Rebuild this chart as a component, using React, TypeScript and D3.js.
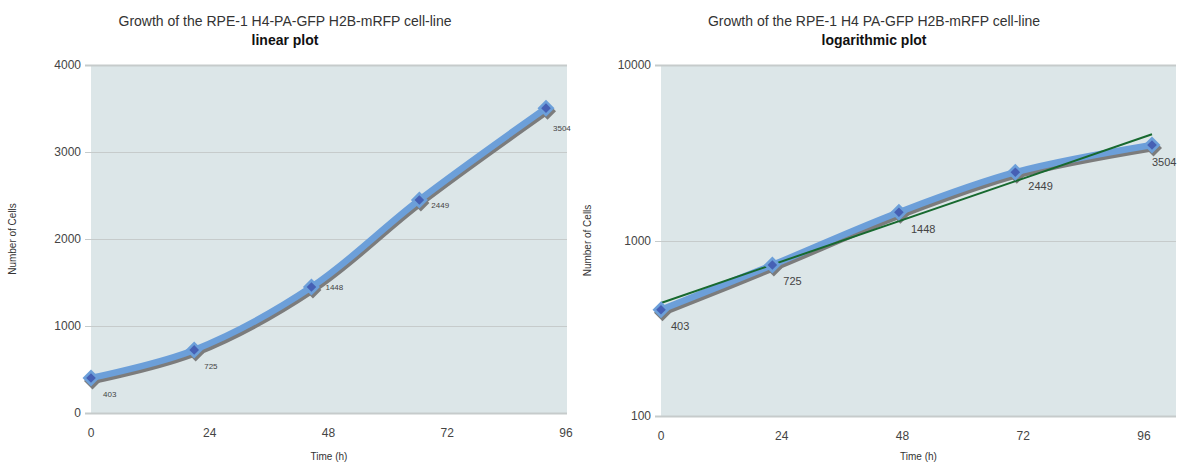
import React from 'react';
import * as d3 from 'd3';

// ---- data ----
const timesH = [0, 22, 47, 70, 97];
const cellCounts = [403, 725, 1448, 2449, 3504];
const xTickValues = [0, 24, 48, 72, 96];
const linearYTicks = [0, 1000, 2000, 3000, 4000];
const logYTicks = [100, 1000, 10000];
const titleLinear = 'Growth of the RPE-1 H4-PA-GFP H2B-mRFP cell-line';
const titleLog = 'Growth of the RPE-1 H4 PA-GFP H2B-mRFP cell-line';
const subtitleLinear = 'linear plot';
const subtitleLog = 'logarithmic plot';
const yAxisTitle = 'Number of Cells';
const xAxisTitle = 'Time (h)';

// ---- styling ----
const FONT = '"Liberation Sans", Arial, sans-serif';
const BG = '#dce6e8';
const GRID = '#c6cbcb';
const BLUE = '#6c9fd9';
const DARK_BLUE = '#4660b4';
const SHADOW = '#7c7c7c';
const GREEN = '#17692f';
const TEXT = '#333';

type Pt = { t: number; v: number };
const points: Pt[] = timesH.map((t, i) => ({ t, v: cellCounts[i] }));

// exponential trend (least squares on ln)
const lnv = cellCounts.map((v) => Math.log(v));
const mt = d3.mean(timesH) as number;
const ml = d3.mean(lnv) as number;
const bSlope =
  d3.sum(timesH.map((t, i) => (t - mt) * (lnv[i] - ml))) /
  d3.sum(timesH.map((t) => (t - mt) * (t - mt)));
const aInt = ml - bSlope * mt;
const trend: Pt[] = [timesH[0], timesH[timesH.length - 1]].map((t) => ({
  t,
  v: Math.exp(aInt + bSlope * t),
}));

const diamond = (r: number) => `M0,${-r}L${r},0L0,${r}L${-r},0Z`;

interface PanelProps {
  log: boolean;
  title: string;
  subtitle: string;
  plotX0: number;
  plotX1: number;
  plotY0: number;
  plotY1: number;
  dataX1: number;
  tickX1: number;
  titleCx: number;
  yTitleX: number;
  labelSize: number;
  labelOffsets: [number, number][];
}

function Panel(p: PanelProps) {
  const x = d3.scaleLinear().domain([0, timesH[timesH.length - 1]]).range([p.plotX0, p.dataX1]);
  const xTick = d3.scaleLinear().domain([0, 96]).range([p.plotX0, p.tickX1]);
  const y = p.log
    ? d3.scaleLog().domain([100, 10000]).range([p.plotY1, p.plotY0])
    : d3.scaleLinear().domain([0, 4000]).range([p.plotY1, p.plotY0]);
  const yTicks = p.log ? logYTicks : linearYTicks;
  const line = d3
    .line<Pt>()
    .x((d) => x(d.t))
    .y((d) => y(d.v))
    .curve(d3.curveCatmullRom.alpha(0.5));
  const straight = d3
    .line<Pt>()
    .x((d) => x(d.t))
    .y((d) => y(d.v));
  const path = line(points) || '';
  return (
    <g>
      <text x={p.titleCx} y={26} textAnchor="middle" fontSize={14} fill={TEXT} fontFamily={FONT}>
        {p.title}
      </text>
      <text x={p.titleCx} y={45} textAnchor="middle" fontSize={14} fontWeight="bold" fill="#111" fontFamily={FONT}>
        {p.subtitle}
      </text>
      <rect x={p.plotX0} y={p.plotY0} width={p.plotX1 - p.plotX0} height={p.plotY1 - p.plotY0} fill={BG} />
      {yTicks.map((t) => (
        <g key={t}>
          <line
            x1={p.plotX0 - 6}
            x2={p.plotX1}
            y1={Math.round(y(t)) + 0.5}
            y2={Math.round(y(t)) + 0.5}
            stroke={GRID}
            strokeWidth={t === yTicks[0] || t === yTicks[yTicks.length - 1] ? 2 : 1}
          />
          <text x={p.plotX0 - 10} y={y(t) + 4} textAnchor="end" fontSize={12} fill="#444" fontFamily={FONT}>
            {t}
          </text>
        </g>
      ))}
      {xTickValues.map((t) => (
        <text key={t} x={xTick(t)} y={p.plotY1 + 24} textAnchor="middle" fontSize={12} fill="#444" fontFamily={FONT}>
          {t}
        </text>
      ))}
      <text
        x={(p.plotX0 + p.plotX1) / 2}
        y={460}
        textAnchor="middle"
        fontSize={10}
        fill={TEXT}
        fontFamily={FONT}
      >
        {xAxisTitle}
      </text>
      <text
        transform={`translate(${p.yTitleX},${(p.plotY0 + p.plotY1) / 2}) rotate(-90)`}
        textAnchor="middle"
        fontSize={10}
        fill={TEXT}
        fontFamily={FONT}
      >
        {yAxisTitle}
      </text>
      {/* shadow */}
      <g transform="translate(1.5,3)">
        <path d={path} fill="none" stroke={SHADOW} strokeWidth={6.5} strokeLinejoin="round" />
        {points.map((d, i) => (
          <path key={i} transform={`translate(${x(d.t)},${y(d.v)})`} d={diamond(8.5)} fill={SHADOW} />
        ))}
      </g>
      <path d={path} fill="none" stroke={BLUE} strokeWidth={6.5} strokeLinejoin="round" />
      {p.log && <path d={straight(trend) || ''} fill="none" stroke={GREEN} strokeWidth={2} />}
      {points.map((d, i) => (
        <g key={i} transform={`translate(${x(d.t)},${y(d.v)})`}>
          <path d={diamond(8.5)} fill={BLUE} />
          <path d={diamond(4.8)} fill={DARK_BLUE} />
        </g>
      ))}
      {points.map((d, i) => (
        <text
          key={i}
          x={x(d.t) + p.labelOffsets[i][0]}
          y={y(d.v) + p.labelOffsets[i][1]}
          fontSize={p.labelSize}
          fill="#444"
          fontFamily={FONT}
        >
          {d.v}
        </text>
      ))}
    </g>
  );
}

const leftLabelOffsets: [number, number][] = [
  [12, 19],
  [10, 19],
  [14, 3],
  [12, 8],
  [7, 23],
];
const rightLabelOffsets: [number, number][] = [
  [10, 20],
  [11, 20],
  [12, 21],
  [13, 18],
  [0, 21],
];

export default function App() {
  return (
    <svg width={1182} height={470} style={{ display: 'block', position: 'absolute', left: 0, top: 0 }}>
      <rect width={1182} height={470} fill="#fff" />
      <Panel
        log={false}
        title={titleLinear}
        subtitle={subtitleLinear}
        plotX0={91}
        plotX1={567}
        plotY0={65}
        plotY1={413}
        dataX1={546}
        tickX1={566}
        titleCx={285}
        yTitleX={16}
        labelSize={8}
        labelOffsets={leftLabelOffsets}
      />
      <Panel
        log={true}
        title={titleLog}
        subtitle={subtitleLog}
        plotX0={661}
        plotX1={1176}
        plotY0={65}
        plotY1={416}
        dataX1={1152}
        tickX1={1144}
        titleCx={874}
        yTitleX={591}
        labelSize={11}
        labelOffsets={rightLabelOffsets}
      />
    </svg>
  );
}
